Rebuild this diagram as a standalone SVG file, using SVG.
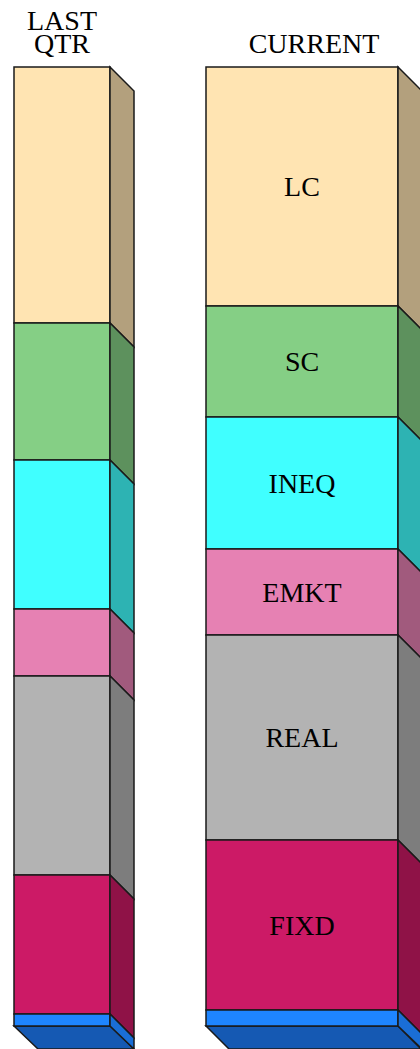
<svg xmlns="http://www.w3.org/2000/svg" width="420" height="1049" viewBox="0 0 420 1049">
<style>
.s{stroke:#1a1a1a;stroke-width:1.5;stroke-linejoin:miter}
.t{font-family:"Liberation Serif",serif;font-size:28px;fill:#000;text-anchor:middle}
.lc{fill:#FFE4B2}.lcs{fill:#B3A07D}
.sc{fill:#85CF85}.scs{fill:#5D915D}
.iq{fill:#40FFFF}.iqs{fill:#2DB3B3}
.em{fill:#E681B3}.ems{fill:#A15A7D}
.re{fill:#B3B3B3}.res{fill:#7D7D7D}
.fx{fill:#CC1A66}.fxs{fill:#8F1247}
.ca{fill:#1E85FF}.cas{fill:#1A6ED6}.cab{fill:#1559B3}
</style>
<rect width="420" height="1049" fill="#fff"/>
<g id="label-last">
<text class="t" x="62" y="30">LAST</text>
<text class="t" x="62" y="53">QTR</text>
</g>
<g id="label-current">
<text class="t" x="314" y="53">CURRENT</text>
</g>
<g id="bar-last">
<polygon class="s cab" points="14,1026 110,1026 134,1049 38,1049"/>
<rect class="s lc" x="14" y="67" width="96" height="256"/>
<polygon class="s lcs" points="110,67 134,91 134,347 110,323"/>
<rect class="s sc" x="14" y="323" width="96" height="137"/>
<polygon class="s scs" points="110,323 134,347 134,484 110,460"/>
<rect class="s iq" x="14" y="460" width="96" height="149"/>
<polygon class="s iqs" points="110,460 134,484 134,633 110,609"/>
<rect class="s em" x="14" y="609" width="96" height="67"/>
<polygon class="s ems" points="110,609 134,633 134,700 110,676"/>
<rect class="s re" x="14" y="676" width="96" height="199"/>
<polygon class="s res" points="110,676 134,700 134,899 110,875"/>
<rect class="s fx" x="14" y="875" width="96" height="139"/>
<polygon class="s fxs" points="110,875 134,899 134,1038 110,1014"/>
<rect class="s ca" x="14" y="1014" width="96" height="12"/>
<polygon class="s cas" points="110,1014 134,1038 134,1049 110,1026"/>
</g>
<g id="bar-current">
<polygon class="s cab" points="206,1026 398,1026 421,1049 229,1049"/>
<rect class="s lc" x="206" y="67" width="192" height="239"/>
<polygon class="s lcs" points="398,67 422,91 422,330 398,306"/>
<rect class="s sc" x="206" y="306" width="192" height="111"/>
<polygon class="s scs" points="398,306 422,330 422,441 398,417"/>
<rect class="s iq" x="206" y="417" width="192" height="132"/>
<polygon class="s iqs" points="398,417 422,441 422,573 398,549"/>
<rect class="s em" x="206" y="549" width="192" height="86"/>
<polygon class="s ems" points="398,549 422,573 422,659 398,635"/>
<rect class="s re" x="206" y="635" width="192" height="205"/>
<polygon class="s res" points="398,635 422,659 422,864 398,840"/>
<rect class="s fx" x="206" y="840" width="192" height="170"/>
<polygon class="s fxs" points="398,840 422,864 422,1034 398,1010"/>
<rect class="s ca" x="206" y="1010" width="192" height="16"/>
<polygon class="s cas" points="398,1010 422,1034 422,1049 398,1026"/>
<text class="t" x="302" y="196">LC</text>
<text class="t" x="302" y="371">SC</text>
<text class="t" x="302" y="493">INEQ</text>
<text class="t" x="302" y="602">EMKT</text>
<text class="t" x="302" y="747">REAL</text>
<text class="t" x="302" y="935">FIXD</text>
</g>
</svg>
